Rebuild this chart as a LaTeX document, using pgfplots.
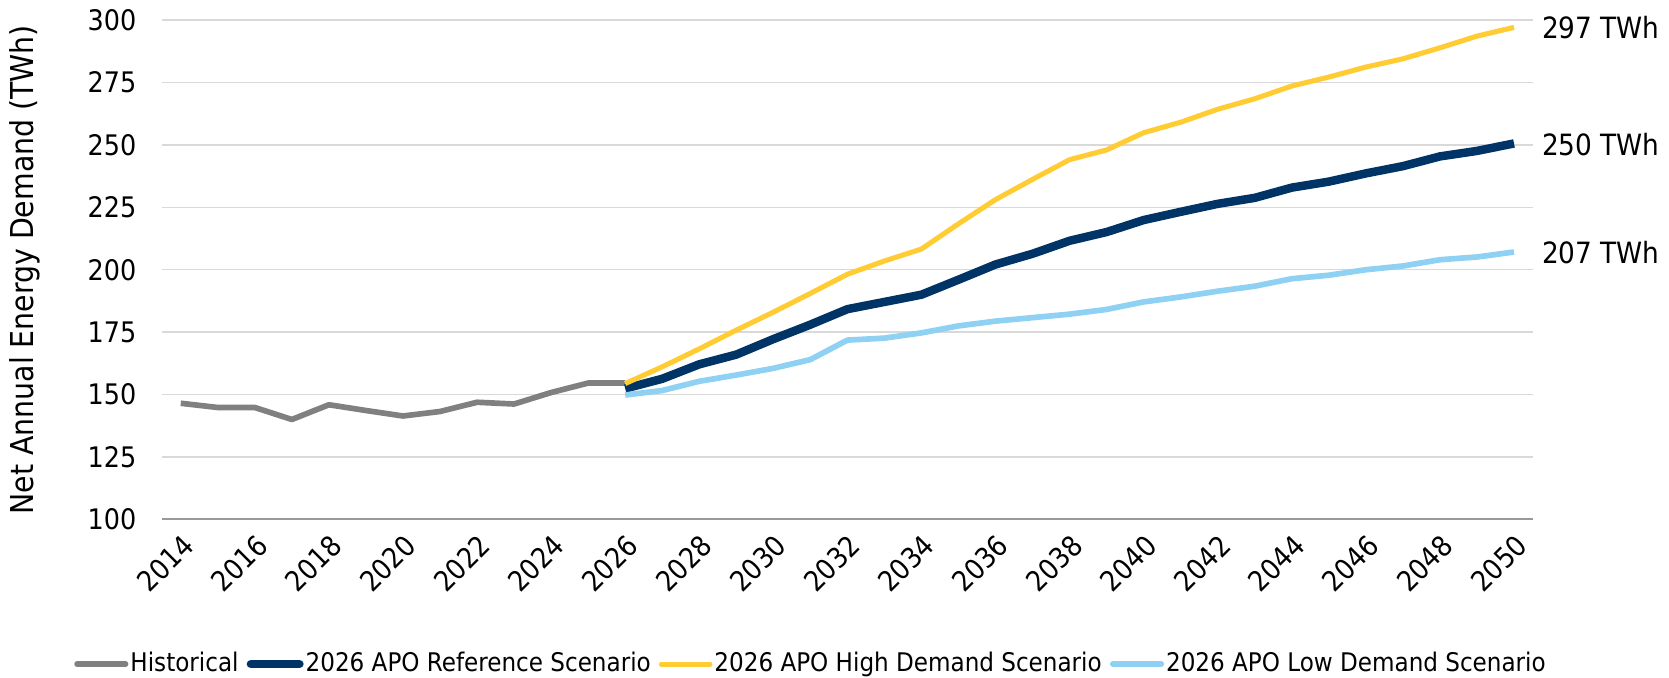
\documentclass[border=0pt]{standalone}
\usepackage{fontspec}
\setmainfont{DejaVu Sans Condensed}
\usepackage{pgfplots}
\pgfplotsset{compat=1.18}
\definecolor{histc}{HTML}{808080}
\definecolor{refc}{HTML}{003366}
\definecolor{highc}{HTML}{FFCC33}
\definecolor{lowc}{HTML}{8ED1F2}
\definecolor{gridc}{HTML}{D9D9D9}
\begin{document}
\fontsize{14}{16}\selectfont
\begin{tikzpicture}
\begin{axis}[
  width=678pt, height=247pt, scale only axis,
  xmin=2013.5, xmax=2050.5, ymin=100, ymax=300,
  xtick={2014,2016,...,2050},
  ytick={100,125,...,300},
  /pgf/number format/1000 sep={},
  /pgf/number format/assume math mode=true,
  xticklabel style={rotate=45, anchor=north east, font=\fontsize{14}{16}\selectfont},
  yticklabel style={xshift=-8pt, font=\fontsize{14}{16}\selectfont},
  major tick length=0pt,
  ymajorgrids, grid style={gridc, line width=0.75pt},
  axis x line*=bottom, axis y line*=left,
  x axis line style={draw=black!40, line width=1pt, -},
  y axis line style={draw=none},
  every axis y label/.style={at={(axis description cs:-0.1004,0.5)}, rotate=90, anchor=center, font=\fontsize{15.6}{17}\selectfont},
  ylabel={Net Annual Energy Demand (TWh)},
  clip=false,
  line join=round,
  legend style={at={(axis description cs:0.4735,-0.290)}, anchor=center, draw=none, fill=none,
    inner sep=0pt,
    legend columns=-1, font=\fontsize{12.7}{15}\selectfont,
    /tikz/every even column/.append style={column sep=3pt},
    nodes={inner xsep=1pt, inner ysep=1pt}},
  legend image code/.code={\draw[#1, line cap=round] (0pt,0pt) -- (24pt,0pt);},
]
\addplot[histc, line width=2.8pt] coordinates {
(2014,146.5)(2015,144.8)(2016,144.8)(2017,140.0)(2018,145.9)(2019,143.6)(2020,141.4)
(2021,143.2)(2022,146.9)(2023,146.2)(2024,150.8)(2025,154.6)(2026,154.6)};
\addlegendentry{Historical}
\addplot[refc, line width=4.2pt] coordinates {
(2026,152.4)(2027,156.3)(2028,162.1)(2029,166.0)(2030,172.2)(2031,178.0)(2032,184.2)
(2033,187.1)(2034,190.0)(2035,196.0)(2036,202.1)(2037,206.4)(2038,211.6)(2039,215.1)
(2040,219.9)(2041,223.2)(2042,226.4)(2043,228.8)(2044,232.9)(2045,235.3)(2046,238.6)
(2047,241.5)(2048,245.4)(2049,247.6)(2050,250.6)};
\addlegendentry{2026 APO Reference Scenario}
\addplot[highc, line width=2.5pt] coordinates {
(2026,154.4)(2027,161.1)(2028,168.3)(2029,175.8)(2030,183.0)(2031,190.5)(2032,198.2)
(2033,203.5)(2034,208.3)(2035,218.4)(2036,228.1)(2037,236.2)(2038,244.1)(2039,248.0)
(2040,254.9)(2041,259.1)(2042,264.3)(2043,268.5)(2044,273.6)(2045,277.2)(2046,281.2)
(2047,284.5)(2048,288.9)(2049,293.6)(2050,297.1)};
\addlegendentry{2026 APO High Demand Scenario}
\addplot[lowc, line width=2.8pt] coordinates {
(2026,149.8)(2027,151.6)(2028,155.3)(2029,157.8)(2030,160.5)(2031,164.0)(2032,171.8)
(2033,172.6)(2034,174.7)(2035,177.5)(2036,179.4)(2037,180.8)(2038,182.2)(2039,184.1)
(2040,187.1)(2041,189.1)(2042,191.4)(2043,193.4)(2044,196.4)(2045,197.8)(2046,200.0)
(2047,201.5)(2048,204.0)(2049,205.1)(2050,207.1)};
\addlegendentry{2026 APO Low Demand Scenario}
\node[anchor=west, xshift=9pt, font=\fontsize{14.5}{16}\selectfont] at (axis cs:2050,297) {297 TWh};
\node[anchor=west, xshift=9pt, font=\fontsize{14.5}{16}\selectfont] at (axis cs:2050,250) {250 TWh};
\node[anchor=west, xshift=9pt, font=\fontsize{14.5}{16}\selectfont] at (axis cs:2050,207) {207 TWh};
\end{axis}
\end{tikzpicture}
\end{document}
